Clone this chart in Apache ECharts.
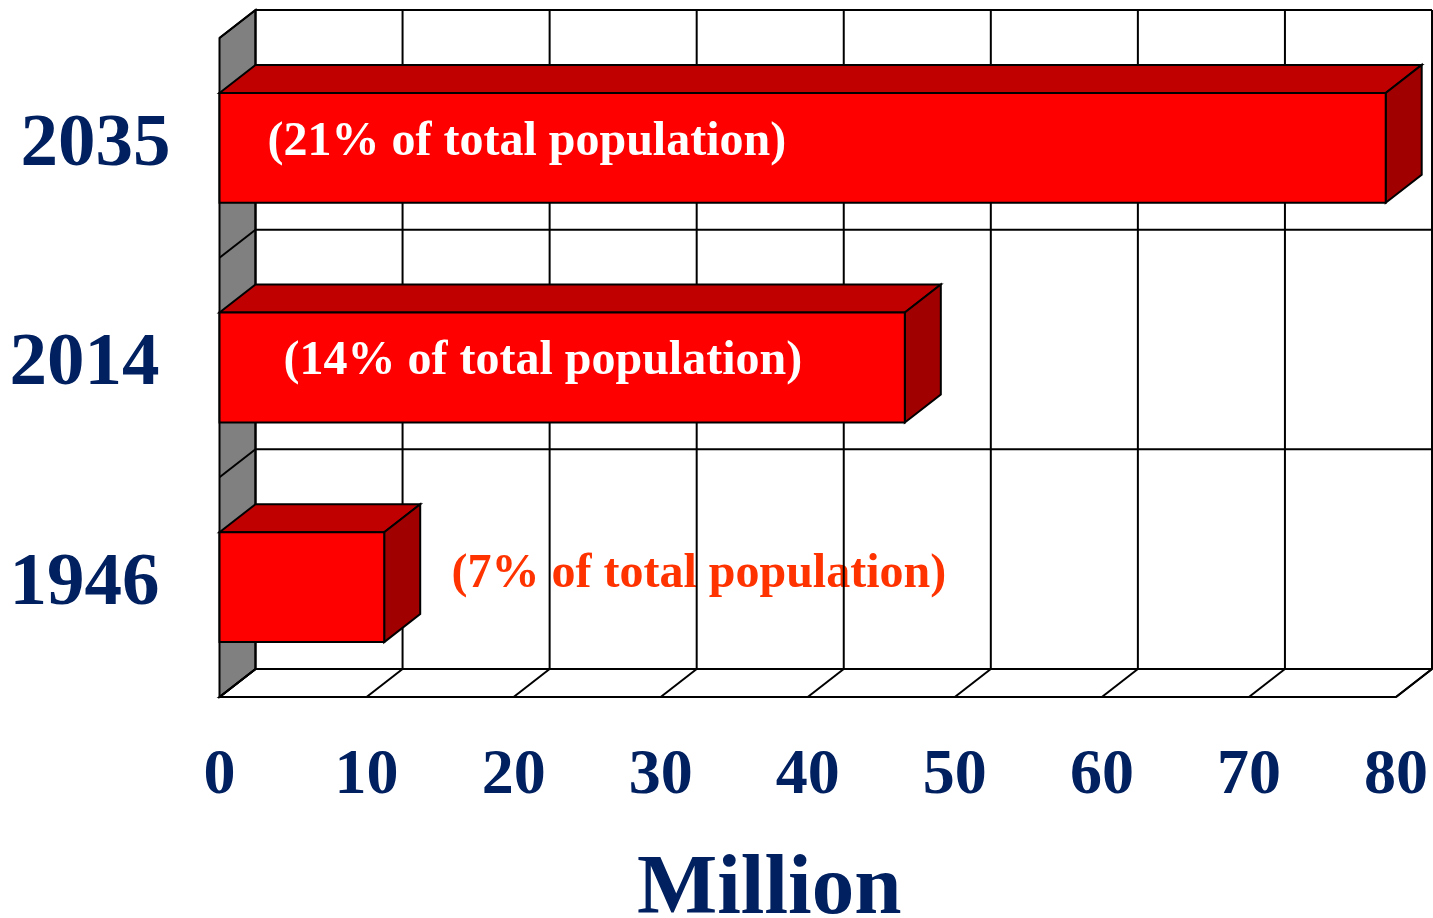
<!DOCTYPE html>
<html>
<head>
<meta charset="utf-8">
<title>Population aged 65 and over</title>
<script src="https://cdn.jsdelivr.net/npm/echarts@6/dist/echarts.min.js"></script>
<style>
  html, body { margin: 0; padding: 0; background: #ffffff; }
  #chart { width: 1433px; height: 918px; }
</style>
</head>
<body>
<div id="chart"></div>
<script>
// Categories, bottom to top
const years = ['1946', '2014', '2035'];
// Elderly population, million people
const elderly = [11.2, 46.6, 79.3];
// Share of the total population written beside each bar
const shareLabels = ['(7% of total population)', '(14% of total population)', '(21% of total population)'];
// Value-axis ticks
const xTicks = [0, 10, 20, 30, 40, 50, 60, 70, 80];

const NAVY = '#002060';
const SERIF = '"Liberation Serif", "Times New Roman", serif';
const DEPTH = [36, -28];           // receding offset of the pseudo-3D box
const LINE = { stroke: '#000000', lineWidth: 2 };

// Placement of the share text relative to the start of each bar
const labelPlacement = [
  { dx: 232, dy: -13, color: '#FF3300', inside: false },
  { dx: 64,  dy: -6,  color: '#FFFFFF', inside: true },
  { dx: 48,  dy: -5,  color: '#FFFFFF', inside: true }
];

function shareText(api, c, s) {
  const lp = labelPlacement[c];
  return {
    type: 'text',
    x: s[0] + lp.dx,
    y: s[1] + lp.dy,
    style: {
      text: shareLabels[c],
      fill: lp.color,
      font: 'bold 48px ' + SERIF,
      align: 'left',
      verticalAlign: 'middle'
    }
  };
}

// Back wall, side wall and floor of the box
function renderFrame(params, api) {
  const cs = params.coordSys;
  const [dx, dy] = DEPTH;
  const x0 = cs.x, x1 = cs.x + cs.width;
  const top = cs.y, bottom = cs.y + cs.height;
  const band = cs.height / years.length;
  const children = [];

  // floor
  children.push({
    type: 'polygon',
    shape: { points: [[x0, bottom], [x1, bottom], [x1 + dx, bottom + dy], [x0 + dx, bottom + dy]] },
    style: Object.assign({ fill: '#FFFFFF' }, LINE)
  });
  // side wall
  children.push({
    type: 'polygon',
    shape: { points: [[x0, top], [x0 + dx, top + dy], [x0 + dx, bottom + dy], [x0, bottom]] },
    style: Object.assign({ fill: '#808080' }, LINE)
  });
  // band boundaries on the back and side walls
  for (let i = 0; i <= years.length; i++) {
    const y = top + i * band;
    children.push({ type: 'line', shape: { x1: x0 + dx, y1: y + dy, x2: x1 + dx, y2: y + dy }, style: LINE });
    children.push({ type: 'line', shape: { x1: x0, y1: y, x2: x0 + dx, y2: y + dy }, style: LINE });
  }
  // tick lines on the back wall and floor
  xTicks.forEach(function (t) {
    const x = api.coord([t, 0])[0];
    children.push({ type: 'line', shape: { x1: x + dx, y1: top + dy, x2: x + dx, y2: bottom + dy }, style: LINE });
    children.push({ type: 'line', shape: { x1: x, y1: bottom, x2: x + dx, y2: bottom + dy }, style: LINE });
  });
  return { type: 'group', children: children };
}

// Share text that sits outside its bar (drawn beneath the wall lines)
function renderOuterLabel(params, api) {
  const c = api.value(1);
  if (labelPlacement[c].inside) return null;
  return shareText(api, c, api.coord([0, c]));
}

// Pseudo-3D bars
function renderBar(params, api) {
  const v = api.value(0), c = api.value(1);
  const s = api.coord([0, c]);
  const e = api.coord([v, c]);
  const h = api.size([0, 1])[1] * 0.5;
  const yt = s[1] - h / 2, yb = s[1] + h / 2;
  const [dx, dy] = DEPTH;
  const children = [
    {
      type: 'polygon',
      shape: { points: [[s[0], yt], [s[0] + dx, yt + dy], [e[0] + dx, yt + dy], [e[0], yt]] },
      style: Object.assign({ fill: '#C00000' }, LINE)
    },
    {
      type: 'polygon',
      shape: { points: [[e[0], yt], [e[0] + dx, yt + dy], [e[0] + dx, yb + dy], [e[0], yb]] },
      style: Object.assign({ fill: '#A00000' }, LINE)
    },
    {
      type: 'rect',
      shape: { x: s[0], y: yt, width: e[0] - s[0], height: h },
      style: Object.assign({ fill: '#FF0000' }, LINE)
    }
  ];
  if (labelPlacement[c].inside) children.push(shareText(api, c, s));
  return { type: 'group', children: children };
}

const chart = echarts.init(document.getElementById('chart'), null, { renderer: 'canvas' });
const barData = elderly.map(function (v, i) { return [v, i]; });

chart.setOption({
  animation: false,
  backgroundColor: '#FFFFFF',
  title: {
    text: 'Million',
    left: 632,
    top: 844,
    textStyle: { fontFamily: SERIF, fontWeight: 'bold', fontSize: 85, color: NAVY }
  },
  grid: { left: 219.5, right: 37, top: 38, bottom: 221, containLabel: false },
  xAxis: {
    type: 'value',
    min: 0,
    max: 80,
    interval: 10,
    axisLine: { show: false },
    axisTick: { show: false },
    splitLine: { show: false },
    axisLabel: {
      margin: 47,
      fontFamily: SERIF,
      fontWeight: 'bold',
      fontSize: 64,
      color: NAVY
    }
  },
  yAxis: {
    type: 'category',
    data: years,
    axisLine: { show: false },
    axisTick: { show: false },
    splitLine: { show: false },
    axisLabel: {
      margin: 0,
      formatter: function (v) { return v === '2035' ? '{near|' + v + '}' : '{far|' + v + '}'; },
      rich: {
        near: { fontFamily: SERIF, fontWeight: 'bold', fontSize: 75, color: NAVY, padding: [0, 49, 4, 0] },
        far:  { fontFamily: SERIF, fontWeight: 'bold', fontSize: 75, color: NAVY, padding: [0, 60, 6, 0] }
      }
    }
  },
  series: [
    { type: 'custom', name: 'outerLabel', z: 1, renderItem: renderOuterLabel, data: barData, encode: { x: 0, y: 1 }, silent: true },
    { type: 'custom', name: 'frame', z: 2, renderItem: renderFrame, data: [[0, 0]], encode: { x: 0, y: 1 }, silent: true },
    { type: 'custom', name: 'Population 65+', z: 3, renderItem: renderBar, data: barData, encode: { x: 0, y: 1 } }
  ]
});
</script>
</body>
</html>
